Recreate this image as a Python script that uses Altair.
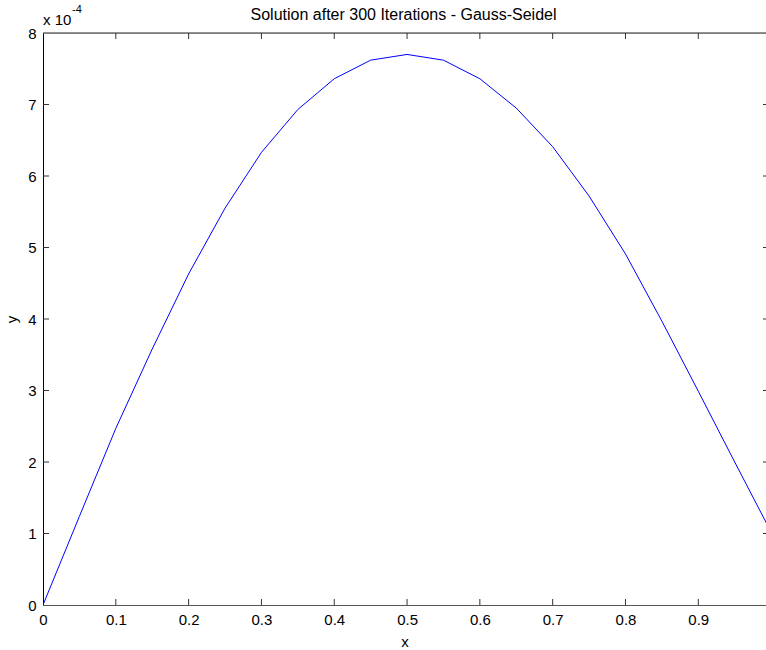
import altair as alt
import pandas as pd

# data (y in units of 1e-4)
x_vals = [0.00, 0.05, 0.10, 0.15, 0.20, 0.25, 0.30, 0.35, 0.40, 0.45, 0.50,
          0.55, 0.60, 0.65, 0.70, 0.75, 0.80, 0.85, 0.90, 0.95, 1.00]
y_vals = [0.00, 1.24, 2.47, 3.58, 4.63, 5.55, 6.33, 6.93, 7.36, 7.62, 7.70,
          7.62, 7.36, 6.95, 6.41, 5.72, 4.91, 3.97, 2.99, 2.00, 1.02]
x_ticks = [0, 0.1, 0.2, 0.3, 0.4, 0.5, 0.6, 0.7, 0.8, 0.9]
y_ticks = [0, 1, 2, 3, 4, 5, 6, 7, 8]
title_text = "Solution after 300 Iterations - Gauss-Seidel"

W, H = 723, 572
FONT = "Liberation Sans"
FS = 15

df = pd.DataFrame({"x": x_vals, "y": y_vals})
xs = alt.Scale(domain=[0, 0.993], nice=False, zero=False)
ys = alt.Scale(domain=[0, 8], nice=False, zero=False)

x_axis = alt.Axis(
    values=x_ticks, format=".1~f", title="x", ticks=False, tickSize=0,
    labelPadding=7, labelFontSize=FS, titleFontSize=FS, titleFontWeight="normal",
    titlePadding=7, domainColor="#555555", labelColor="#000000", titleColor="#000000",
    grid=False, labelFont=FONT, titleFont=FONT, labelFlush=False)
y_axis = alt.Axis(
    values=y_ticks, format="d", title="y", ticks=False, tickSize=0,
    labelPadding=7, labelFontSize=FS, titleFontSize=FS, titleFontWeight="normal",
    titlePadding=8, domainColor="#000000", labelColor="#000000", titleColor="#000000",
    grid=False, labelFont=FONT, titleFont=FONT, labelFlush=False)

line = alt.Chart(df).mark_line(color="#0000ff", strokeWidth=1, clip=True).encode(
    x=alt.X("x:Q", scale=xs, axis=x_axis),
    y=alt.Y("y:Q", scale=ys, axis=y_axis),
)

xt = pd.DataFrame({"x": x_ticks[1:]})
yt = pd.DataFrame({"y": y_ticks[1:-1]})

TC = "#333333"
bottom_ticks = alt.Chart(xt).mark_rule(color=TC, strokeWidth=1).encode(
    x=alt.X("x:Q", scale=xs, axis=x_axis), y=alt.value(H), y2=alt.value(H - 6))
top_ticks = alt.Chart(xt).mark_rule(color=TC, strokeWidth=1).encode(
    x=alt.X("x:Q", scale=xs, axis=x_axis), y=alt.value(0), y2=alt.value(6))
left_ticks = alt.Chart(yt).mark_rule(color=TC, strokeWidth=1).encode(
    y=alt.Y("y:Q", scale=ys, axis=y_axis), x=alt.value(0), x2=alt.value(6))
right_ticks = alt.Chart(yt).mark_rule(color=TC, strokeWidth=1).encode(
    y=alt.Y("y:Q", scale=ys, axis=y_axis), x=alt.value(W - 3), x2=alt.value(W))

one = pd.DataFrame({"a": [0]})
top_border = alt.Chart(one).mark_rule(color="#222222", strokeWidth=1).encode(
    x=alt.value(0), x2=alt.value(W), y=alt.value(0))
exp_base = alt.Chart(one).mark_text(align="left", baseline="alphabetic", fontSize=FS,
                                    font=FONT, color="#000000").encode(
    x=alt.value(0), y=alt.value(-8), text=alt.value("x 10"))
exp_sup = alt.Chart(one).mark_text(align="left", baseline="alphabetic", fontSize=11,
                                   font=FONT, color="#000000").encode(
    x=alt.value(29), y=alt.value(-20), text=alt.value("-4"))
title = alt.Chart(one).mark_text(align="center", baseline="alphabetic", fontSize=16,
                                 font=FONT, color="#000000").encode(
    x=alt.value(W / 2 - 1), y=alt.value(-13), text=alt.value(title_text))

chart = alt.layer(line, bottom_ticks, top_ticks, left_ticks, right_ticks,
                  top_border, exp_base, exp_sup, title).properties(
    width=W, height=H,
    padding={"left": 43, "top": 33, "right": 0, "bottom": 45},
    autosize="none",
).configure_view(stroke=None).configure(background="white")

chart.save("out.html", embed_options={"renderer": "svg", "actions": False})
